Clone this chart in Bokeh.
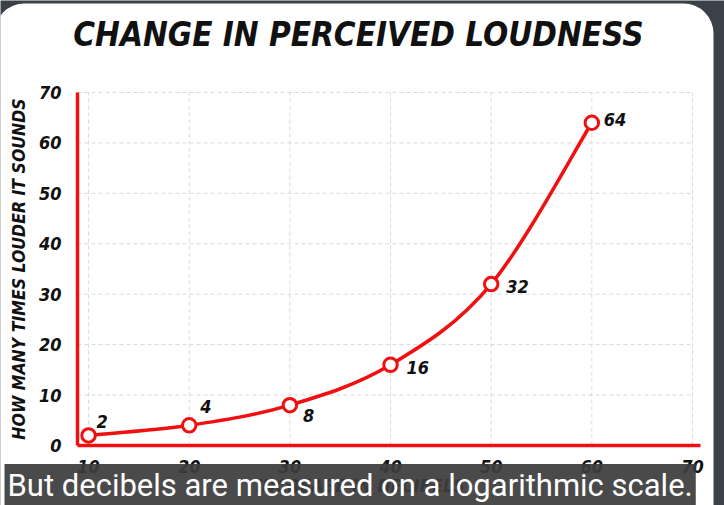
from bokeh.plotting import figure
from bokeh.models import Label, Range1d, FixedTicker, ColumnDataSource, BoxAnnotation
from bokeh.embed import file_html
from bokeh.resources import INLINE

# ---- data ----
decibels = [10, 20, 30, 40, 50, 60]
loudness = [2, 4, 8, 16, 32, 64]
point_labels = ["2", "4", "8", "16", "32", "64"]
x_ticks = [10, 20, 30, 40, 50, 60, 70]
y_ticks = [0, 10, 20, 30, 40, 50, 60, 70]
title_text = "CHANGE IN PERCEIVED LOUDNESS"
y_title = "HOW MANY TIMES LOUDER IT SOUNDS"
x_title = "INCREASE IN DECIBELS"
caption = "But decibels are measured on a logarithmic scale."

# ---- style / layout ----
RED = "#f01010"
INK = "#111111"
COND = "'Liberation Sans Narrow', 'DejaVu Sans Condensed', 'DejaVu Sans', sans-serif"
label_dx = [8, 11, 13, 16, 15, 12]
label_dy = [-14, -19, 10, 3, 2, -3]
X0, X1 = 8.9, 70.8      # extent of the x axis line
Y0, Y1 = 0, 70          # extent of the y axis line

W, H = 724, 505
p = figure(width=W, height=H, output_backend="svg", toolbar_location=None,
           x_range=Range1d(1.25, 73.18), y_range=Range1d(-11.9, 88.24),
           min_border=0)
p.background_fill_color = "#3b4149"
p.border_fill_color = "#3b4149"
p.outline_line_color = None
p.xgrid.visible = False
p.ygrid.visible = False

# white card behind the chart
p.add_layout(BoxAnnotation(left=-6, right=713, top=3, bottom=560,
                           left_units="canvas", right_units="canvas",
                           top_units="canvas", bottom_units="canvas",
                           fill_color="white", fill_alpha=1,
                           line_color=None, border_radius=30,
                           level="underlay"))

p.xaxis.fixed_location = Y0
p.xaxis.bounds = (X0, X1)
p.yaxis.fixed_location = X0
p.yaxis.bounds = (Y0, Y1)
for ax in (p.xaxis[0], p.yaxis[0]):
    ax.axis_line_color = RED
    ax.axis_line_width = 3.5
    ax.major_tick_line_color = None
    ax.minor_tick_line_color = None
    ax.major_label_text_font = COND
    ax.major_label_text_font_style = "bold italic"
    ax.major_label_text_font_size = "18px"
    ax.major_label_text_color = INK
p.xaxis.ticker = FixedTicker(ticks=x_ticks)
p.yaxis.ticker = FixedTicker(ticks=y_ticks)
p.xaxis.major_label_standoff = 9
p.yaxis.major_label_standoff = 10
p.yaxis.axis_label = y_title
p.yaxis.axis_label_text_font = COND
p.yaxis.axis_label_text_font_style = "bold italic"
p.yaxis.axis_label_text_font_size = "17.5px"
p.yaxis.axis_label_text_color = INK
p.yaxis.axis_label_standoff = 7

# ---- dashed grid drawn from the tick arrays ----
gx = [t for t in x_ticks if t > X0]
p.segment(x0=gx, y0=[Y0] * len(gx), x1=gx, y1=[Y1] * len(gx),
          line_color="#d9d9d9", line_dash="4 3", line_width=1)
gy = [t for t in y_ticks if t > Y0]
p.segment(x0=[X0] * len(gy), y0=gy, x1=[x_ticks[-1]] * len(gy), y1=gy,
          line_color="#d9d9d9", line_dash="4 3", line_width=1)

# ---- smooth curve through the points (Catmull-Rom -> cubic Bezier) ----
n = len(decibels)
x0, y0, x1, y1, cx0, cy0, cx1, cy1 = ([] for _ in range(8))
for i in range(n - 1):
    a = max(i - 1, 0)
    d = min(i + 2, n - 1)
    x0.append(decibels[i]); y0.append(loudness[i])
    x1.append(decibels[i + 1]); y1.append(loudness[i + 1])
    cx0.append(decibels[i] + (decibels[i + 1] - decibels[a]) / 6)
    cy0.append(loudness[i] + (loudness[i + 1] - loudness[a]) / 6)
    cx1.append(decibels[i + 1] - (decibels[d] - decibels[i]) / 6)
    cy1.append(loudness[i + 1] - (loudness[d] - loudness[i]) / 6)
p.bezier(x0=x0, y0=y0, x1=x1, y1=y1, cx0=cx0, cy0=cy0, cx1=cx1, cy1=cy1,
         line_color=RED, line_width=3.5)

src = ColumnDataSource(dict(x=decibels, y=loudness, t=point_labels,
                            dx=label_dx, dy=label_dy))
p.scatter("x", "y", source=src, size=13.5, fill_color="white",
          line_color=RED, line_width=3)
p.text("x", "y", text="t", source=src, x_offset="dx", y_offset="dy",
       text_font={"value": COND}, text_font_style="bold italic",
       text_font_size="18px", text_color=INK, text_align="left",
       text_baseline="middle")

# ---- title ----
p.add_layout(Label(x=358, y=H - 34, x_units="screen", y_units="screen",
                   text=title_text, text_font=COND,
                   text_font_style="bold italic", text_font_size="33px",
                   text_color=INK, text_align="center",
                   text_baseline="middle"))

# ---- x axis title (mostly hidden behind the caption) ----
p.add_layout(Label(x=360, y=10, x_units="screen", y_units="screen",
                   text=x_title, text_font=COND,
                   text_font_style="bold italic", text_font_size="18px",
                   text_color=INK, text_align="center",
                   text_baseline="bottom"))

# ---- caption bar ----
p.add_layout(Label(x=4, y=20, x_units="screen", y_units="screen",
                   text=caption, text_font="Roboto",
                   text_font_size="31px", text_color="white",
                   text_align="left", text_baseline="alphabetic",
                   background_fill_color="#3c3c3c",
                   background_fill_alpha=0.93, padding=3))

open("out.html", "w").write(file_html(p, INLINE))
